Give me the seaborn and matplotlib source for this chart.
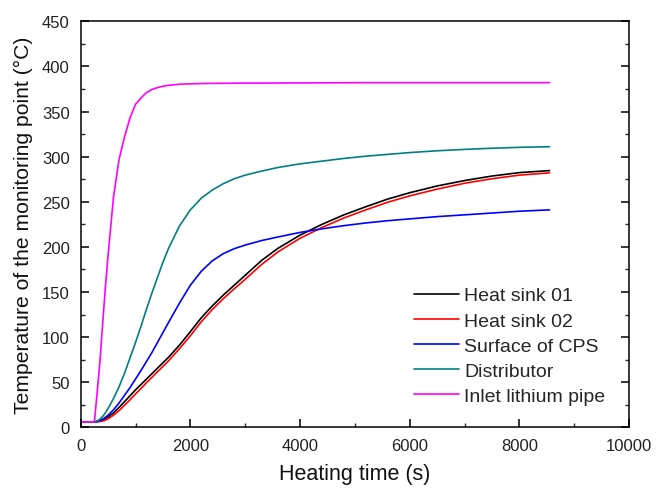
import numpy as np
import pandas as pd
import matplotlib
matplotlib.use("Agg")
import matplotlib.pyplot as plt
from matplotlib.ticker import MultipleLocator
import seaborn as sns

# Heating time (s)
time_s = [0, 250, 300, 350, 400, 450, 500, 600, 700, 800, 900, 1000, 1100, 1200,
          1300, 1400, 1500, 1600, 1800, 2000, 2200, 2400, 2600, 2800, 3000, 3300,
          3600, 4000, 4400, 4800, 5200, 5600, 6000, 6500, 7000, 7500, 8000, 8550]

heat_sink_01 = [6, 6, 6.5, 7, 8, 9.5, 11.5, 16, 22, 28.5, 35, 41.5, 47.5, 53.5,
                59.5, 65.5, 71.5, 77.5, 91, 106, 121.5, 134.5, 146.5, 157.5, 168.5, 185,
                198.5, 213, 225, 235.5, 244.5, 253, 260, 267.5, 273.5, 278.5, 282.3, 284.5]
heat_sink_02 = [6, 6, 6, 6.5, 7, 8, 9.5, 13.5, 18.5, 24.5, 30.5, 37, 43, 49.5,
                55.5, 61.5, 67.5, 73.5, 87, 101.5, 117, 130.5, 142.5, 153.5, 164, 180.5,
                194.5, 209.5, 221.5, 232, 241, 249.5, 256.5, 264, 270.5, 275.5, 279.5, 282]
surface_cps = [6, 6, 6.5, 7.5, 9, 11, 13.5, 19.5, 27, 35.5, 44, 53.5, 63, 73,
               83, 94, 105, 116, 137.5, 157.5, 173, 184.5, 192.5, 198, 202, 207,
               211, 216, 220, 223.5, 226.5, 229, 231, 233.5, 235.5, 237.5, 239.5, 241]
distributor = [6, 6, 7, 9, 12, 16, 21, 32, 45, 60, 77, 94, 112, 131,
               149, 166, 183, 198, 223, 241, 254, 263, 270, 275.5, 279.5, 284,
               288, 292, 295, 298, 300.5, 302.5, 304.5, 306.5, 308, 309.3, 310.3, 311]
inlet_pipe = [6, 6, 38, 72, 114, 155, 191, 256, 297, 322, 343, 358, 365, 371,
              374.5, 376.5, 378, 379, 380.3, 380.7, 381, 381.2, 381.3, 381.4, 381.5, 381.5,
              381.6, 381.7, 381.8, 381.9, 382, 382, 382, 382, 382, 382, 382, 382]

labels = ["Heat sink 01", "Heat sink 02", "Surface of CPS", "Distributor",
          "Inlet lithium pipe"]
colors = ["#000000", "#ff0000", "#0000ff", "#008080", "#ff00ff"]

series = [heat_sink_01, heat_sink_02, surface_cps, distributor, inlet_pipe]
df = pd.concat([pd.DataFrame({"time": time_s, "temp": s, "series": lab})
                for s, lab in zip(series, labels)], ignore_index=True)

sns.set_style("ticks")
plt.rcParams["font.family"] = ["Liberation Sans", "DejaVu Sans"]
plt.rcParams["xtick.direction"] = "in"
plt.rcParams["ytick.direction"] = "in"

fig = plt.figure(figsize=(6.57, 4.89), dpi=100)
ax = fig.add_axes([0.1228, 0.1241, 0.8347, 0.8303])

sns.lineplot(data=df, x="time", y="temp", hue="series", hue_order=labels,
             palette=colors, linewidth=1.2, ax=ax, sort=False, estimator=None)

ax.set_xlim(0, 10000)
ax.set_ylim(0, 450)
ax.xaxis.set_major_locator(MultipleLocator(2000))
ax.xaxis.set_minor_locator(MultipleLocator(1000))
ax.yaxis.set_major_locator(MultipleLocator(50))
ax.yaxis.set_minor_locator(MultipleLocator(25))
ax.tick_params(axis="both", which="major", length=6, width=1.1, labelsize=12,
               color="black", labelcolor="#222222", pad=8)
ax.tick_params(axis="both", which="minor", length=3, width=1.0)
ax.tick_params(axis="y", which="both", right=True, labelright=False)
for sp in ax.spines.values():
    sp.set_visible(True)
    sp.set_linewidth(1.1)
    sp.set_color("black")

ax.set_xlabel("Heating time (s)", fontsize=15.5, color="#111111", labelpad=7)
ax.set_ylabel("Temperature of the monitoring point (\u00b0C)", fontsize=15.2,
              color="#111111", labelpad=6)

leg = ax.legend(loc="upper left", bbox_to_anchor=(0.6077, 0.346), frameon=False,
                fontsize=14, handlelength=2.3, handletextpad=0.3,
                labelspacing=0.39, borderpad=0, borderaxespad=0)
for line in leg.get_lines():
    line.set_linewidth(1.2)

fig.savefig("out.png", dpi=100)
